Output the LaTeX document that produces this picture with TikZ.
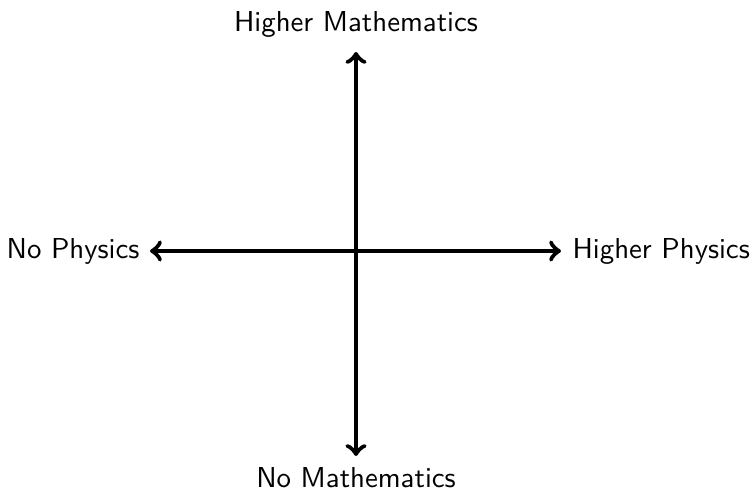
\documentclass[tikz,border=0pt]{standalone}
\renewcommand{\familydefault}{\sfdefault}
\begin{document}
\begin{tikzpicture}[x=0.347pt,y=-0.347pt,
  axis/.style={ultra thick,<->},
  lbl/.style={font=\sffamily,inner sep=0pt}]
\useasboundingbox (0,0) rectangle (751,490);
\coordinate (top) at (356,52);
\coordinate (bot) at (356,456);
\coordinate (lft) at (150,251);
\coordinate (rgt) at (561,251);
\draw[axis] (bot) -- (top);
\draw[axis] (lft) -- (rgt);
\node[lbl,anchor=south] (tl) at (356,38) {Higher Mathematics};
\node[lbl,anchor=north] (bl) at (356,467) {No Mathematics};
\node[lbl,anchor=east] (ll) at (140,251) {No Physics};
\node[lbl,anchor=west] (rl) at (572,251) {Higher Physics};
\end{tikzpicture}
\end{document}
